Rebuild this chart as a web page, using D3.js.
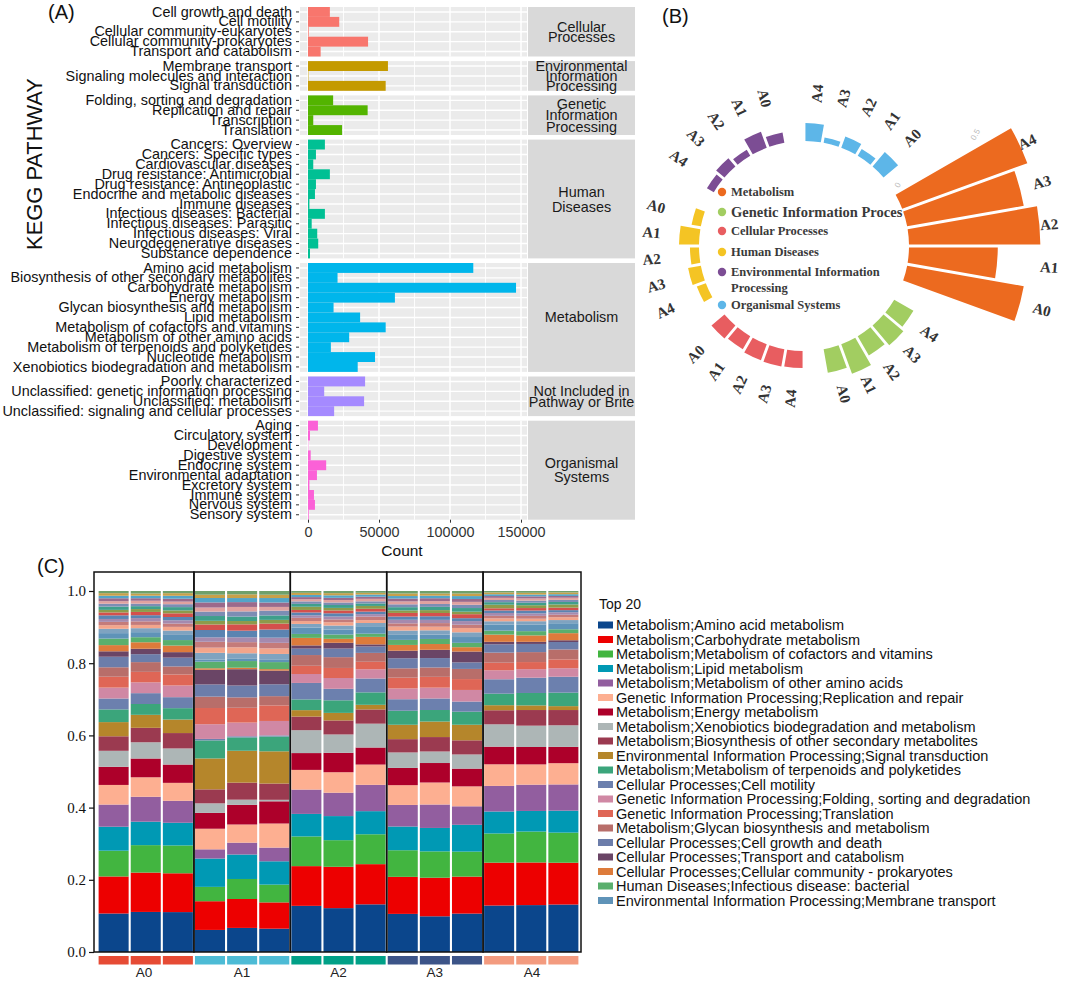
<!DOCTYPE html>
<html><head><meta charset="utf-8">
<script src="https://cdn.jsdelivr.net/npm/d3@7"></script>
<style>body{margin:0;background:#fff}svg{display:block}</style>
</head><body>
<svg id="fig" width="1065" height="981"></svg>
<script>
// ================= DATA =================
// ---- Panel A : KEGG level-2 pathway counts ----
const keggLevel1 = ["Cellular Processes","Environmental Information Processing","Genetic Information Processing","Human Diseases","Metabolism","Not Included in Pathway or Brite","Organismal Systems"];
const keggStrip = [["Cellular","Processes"],["Environmental","Information","Processing"],["Genetic","Information","Processing"],["Human","Diseases"],["Metabolism"],["Not Included in","Pathway or Brite"],["Organismal","Systems"]];
const keggPathway = [
 "Cell growth and death","Cell motility","Cellular community-eukaryotes","Cellular community-prokaryotes","Transport and catabolism",
 "Membrane transport","Signaling molecules and interaction","Signal transduction",
 "Folding, sorting and degradation","Replication and repair","Transcription","Translation",
 "Cancers: Overview","Cancers: Specific types","Cardiovascular diseases","Drug resistance: Antimicrobial","Drug resistance: Antineoplastic","Endocrine and metabolic diseases","Immune diseases","Infectious diseases: Bacterial","Infectious diseases: Parasitic","Infectious diseases: Viral","Neurodegenerative diseases","Substance dependence",
 "Amino acid metabolism","Biosynthesis of other secondary metabolites","Carbohydrate metabolism","Energy metabolism","Glycan biosynthesis and metabolism","Lipid metabolism","Metabolism of cofactors and vitamins","Metabolism of other amino acids","Metabolism of terpenoids and polyketides","Nucleotide metabolism","Xenobiotics biodegradation and metabolism",
 "Poorly characterized","Unclassified: genetic information processing","Unclassified: metabolism","Unclassified: signaling and cellular processes",
 "Aging","Circulatory system","Development","Digestive system","Endocrine system","Environmental adaptation","Excretory system","Immune system","Nervous system","Sensory system"];
const keggGroupOf = [0,0,0,0,0, 1,1,1, 2,2,2,2, 3,3,3,3,3,3,3,3,3,3,3,3, 4,4,4,4,4,4,4,4,4,4,4, 5,5,5,5, 6,6,6,6,6,6,6,6,6,6];
const keggCount = [
 15400,22000,500,42300,8900,
 56300,300,54700,
 17700,42000,3700,24000,
 11900,5600,3700,15400,5600,4900,1000,11900,2600,6500,7200,1400,
 116400,20800,146500,61200,18000,36700,54700,29000,16100,47200,35000,
 40200,11400,39500,18400,
 7000,1400,200,1900,12800,6300,1000,4200,4900,500];
const countTicks = [0,50000,100000,150000];
const countMinorTicks = [25000,75000,125000];

// ---- Panel B : circular bar chart ----
const circGroups = ["Metabolism","Genetic Information Processing","Cellular Processes","Human Diseases","Environmental Information Processing","Organismal Systems"];
const circLegend = [["Metabolism"],["Genetic Information Proces"],["Cellular Processes"],["Human Diseases"],["Environmental Information","Processing"],["Organismal Systems"]];
const circSamples = ["A0","A1","A2","A3","A4"];
const circMetabolism = [0.64,0.48,0.71,0.64,0.72];
const circGenetic    = [0.13,0.17,0.12,0.14,0.12];
const circCellular   = [0.092,0.081,0.092,0.095,0.092];
const circHuman      = [0.051,0.108,0.049,0.070,0.052];
const circEnv        = [0.057,0.092,0.038,0.059,0.043];
const circOrganismal = [0.103,0.043,0.065,0.029,0.097];
const circValues = [circMetabolism,circGenetic,circCellular,circHuman,circEnv,circOrganismal];
const circTicks = [0,0.5];

// ---- Panel C : stacked relative abundance ----
const sampleGroups = ["A0","A1","A2","A3","A4"];
const samples = ["A0_1","A0_2","A0_3","A1_1","A1_2","A1_3","A2_1","A2_2","A2_3","A3_1","A3_2","A3_3","A4_1","A4_2","A4_3"];
const top20 = [
 "Metabolism;Amino acid metabolism",
 "Metabolism;Carbohydrate metabolism",
 "Metabolism;Metabolism of cofactors and vitamins",
 "Metabolism;Lipid metabolism",
 "Metabolism;Metabolism of other amino acids",
 "Genetic Information Processing;Replication and repair",
 "Metabolism;Energy metabolism",
 "Metabolism;Xenobiotics biodegradation and metabolism",
 "Metabolism;Biosynthesis of other secondary metabolites",
 "Environmental Information Processing;Signal transduction",
 "Metabolism;Metabolism of terpenoids and polyketides",
 "Cellular Processes;Cell motility",
 "Genetic Information Processing;Folding, sorting and degradation",
 "Genetic Information Processing;Translation",
 "Metabolism;Glycan biosynthesis and metabolism",
 "Cellular Processes;Cell growth and death",
 "Cellular Processes;Transport and catabolism",
 "Cellular Processes;Cellular community - prokaryotes",
 "Human Diseases;Infectious disease: bacterial",
 "Environmental Information Processing;Membrane transport"];
const abAmino      = [0.106,0.111,0.109, 0.060,0.065,0.063, 0.129,0.122,0.134, 0.106,0.099,0.106, 0.129,0.132,0.134];
const abCarb       = [0.102,0.109,0.106, 0.078,0.078,0.071, 0.111,0.115,0.113, 0.103,0.107,0.102, 0.119,0.120,0.118];
const abCofactor   = [0.071,0.076,0.076, 0.039,0.054,0.048, 0.083,0.074,0.084, 0.074,0.073,0.069, 0.081,0.087,0.085];
const abLipid      = [0.066,0.065,0.062, 0.077,0.066,0.063, 0.063,0.067,0.065, 0.066,0.065,0.074, 0.061,0.058,0.062];
const abOtherAA    = [0.061,0.069,0.060, 0.025,0.032,0.037, 0.068,0.065,0.074, 0.060,0.065,0.051, 0.071,0.074,0.074];
const abReplic     = [0.054,0.054,0.049, 0.056,0.049,0.065, 0.055,0.057,0.057, 0.055,0.061,0.055, 0.060,0.057,0.060];
const abEnergy     = [0.050,0.052,0.050, 0.043,0.053,0.060, 0.047,0.054,0.048, 0.048,0.054,0.049, 0.049,0.049,0.046];
const abXeno       = [0.044,0.045,0.044, 0.026,0.014,0.004, 0.064,0.051,0.067, 0.043,0.032,0.039, 0.062,0.060,0.061];
const abBiosyn     = [0.040,0.040,0.042, 0.038,0.046,0.044, 0.038,0.039,0.040, 0.037,0.040,0.039, 0.039,0.044,0.043];
const abSignal     = [0.039,0.036,0.037, 0.084,0.086,0.087, 0.018,0.021,0.013, 0.040,0.043,0.043, 0.014,0.013,0.011];
const abTerpen     = [0.035,0.030,0.031, 0.049,0.036,0.040, 0.030,0.035,0.035, 0.039,0.032,0.036, 0.032,0.035,0.038];
const abMotility   = [0.030,0.030,0.030, 0.004,0.003,0.003, 0.046,0.032,0.039, 0.032,0.032,0.028, 0.040,0.043,0.045];
const abFolding    = [0.030,0.030,0.032, 0.040,0.037,0.039, 0.025,0.030,0.026, 0.030,0.030,0.032, 0.025,0.024,0.024];
const abTransl     = [0.030,0.029,0.030, 0.044,0.040,0.042, 0.023,0.028,0.021, 0.030,0.030,0.030, 0.021,0.020,0.025];
const abGlycan     = [0.026,0.027,0.022, 0.031,0.028,0.025, 0.030,0.030,0.025, 0.026,0.026,0.028, 0.028,0.028,0.028];
const abGrowth     = [0.029,0.022,0.024, 0.033,0.032,0.032, 0.018,0.024,0.018, 0.028,0.026,0.018, 0.023,0.023,0.021];
const abTransport  = [0.015,0.015,0.015, 0.040,0.044,0.037, 0.009,0.016,0.006, 0.021,0.023,0.030, 0.007,0.006,0.005];
const abCommunity  = [0.017,0.018,0.018, 0.004,0.004,0.004, 0.021,0.011,0.021, 0.016,0.016,0.012, 0.020,0.018,0.020];
const abInfect     = [0.018,0.014,0.015, 0.018,0.018,0.019, 0.011,0.012,0.009, 0.014,0.014,0.012, 0.011,0.012,0.011];
const abMembrane   = [0.015,0.014,0.014, 0.006,0.006,0.006, 0.018,0.014,0.021, 0.014,0.012,0.016, 0.017,0.018,0.017];
// remaining (non top-20) pathways, thin stripes at the top of each bar
const abOther01 = [0.012,0.011,0.012, 0.018,0.015,0.016, 0.010,0.011,0.009, 0.012,0.012,0.013, 0.009,0.010,0.009];
const abOther02 = [0.010,0.009,0.010, 0.014,0.016,0.015, 0.008,0.009,0.008, 0.011,0.010,0.012, 0.008,0.007,0.008];
const abOther03 = [0.009,0.010,0.009, 0.016,0.014,0.015, 0.009,0.008,0.010, 0.009,0.010,0.009, 0.007,0.008,0.007];
const abOther04 = [0.008,0.009,0.009, 0.012,0.013,0.014, 0.007,0.008,0.007, 0.010,0.009,0.010, 0.008,0.007,0.007];
const abOther05 = [0.010,0.008,0.009, 0.020,0.018,0.022, 0.008,0.009,0.007, 0.009,0.010,0.008, 0.007,0.008,0.006];
const abOther06 = [0.008,0.009,0.010, 0.015,0.017,0.016, 0.007,0.008,0.008, 0.010,0.009,0.011, 0.006,0.007,0.007];
const abOther07 = [0.007,0.008,0.008, 0.010,0.009,0.010, 0.009,0.007,0.008, 0.007,0.008,0.007, 0.010,0.008,0.009];
const abOther08 = [0.009,0.008,0.009, 0.013,0.012,0.012, 0.008,0.008,0.007, 0.009,0.009,0.010, 0.007,0.007,0.007];
const abOther09 = [0.008,0.007,0.008, 0.012,0.014,0.013, 0.007,0.007,0.006, 0.008,0.008,0.009, 0.006,0.006,0.006];
const abOther10 = [0.007,0.008,0.007, 0.011,0.012,0.010, 0.006,0.007,0.007, 0.008,0.008,0.008, 0.006,0.006,0.006];
const abOther11 = [0.008,0.007,0.008, 0.014,0.013,0.012, 0.006,0.006,0.006, 0.008,0.008,0.008, 0.005,0.006,0.005];
const abOther12 = [0.007,0.007,0.008, 0.012,0.011,0.012, 0.006,0.007,0.006, 0.007,0.007,0.008, 0.005,0.005,0.005];
const abOther13 = [0.007,0.006,0.007, 0.009,0.010,0.009, 0.006,0.006,0.005, 0.007,0.006,0.007, 0.005,0.005,0.005];
const abOther14 = [0.006,0.007,0.006, 0.010,0.009,0.010, 0.005,0.006,0.005, 0.007,0.007,0.007, 0.004,0.005,0.004];
const topSeries = [abAmino,abCarb,abCofactor,abLipid,abOtherAA,abReplic,abEnergy,abXeno,abBiosyn,abSignal,abTerpen,abMotility,abFolding,abTransl,abGlycan,abGrowth,abTransport,abCommunity,abInfect,abMembrane];
const otherSeries = [abOther01,abOther02,abOther03,abOther04,abOther05,abOther06,abOther07,abOther08,abOther09,abOther10,abOther11,abOther12,abOther13,abOther14];
const abTicks = [0,0.2,0.4,0.6,0.8,1.0];

// ================= STYLES =================
const SANS = "'Liberation Sans', Arial, Helvetica, sans-serif";
const SERIF = "'Liberation Serif', 'Times New Roman', serif";
const keggColors = ["#F8766D","#C49A00","#53B400","#00C094","#00B6EB","#A58AFF","#FB61D7"];
const circColors = ["#EC6A1F","#A2CD61","#E85D60","#F4C424","#7C4D94","#5DB6E8"];
const topColors = ["#0B468C","#ED0000","#42B540","#0099B4","#925E9F","#FDAF91","#AD002A","#ADB6B6","#9B3A50","#B5862B","#3BA57B","#6C80AE","#D088A4","#DF6656","#B86E6A","#6C7DAA","#6A4566","#DD7B3B","#5AAF6D","#5F93B8"];
const otherColors = ["#7FA3C0","#F3A58B","#C47B7A","#A58AAE","#5B84B1","#D4504C","#8D9B4B","#3F9F8B","#7C8DB4","#E0A2A0","#9B6A8B","#53A4C8","#C8A049","#6FA06B"];
const groupStripColors = ["#E64B35","#4DBBD5","#00A087","#3C5488","#F39B7F"];

const svg = d3.select("#fig");

// panel letters
svg.append("text").attr("x",48).attr("y",19).text("(A)").attr("font-family",SANS).attr("font-size",20).attr("fill","#111");
svg.append("text").attr("x",662).attr("y",23).text("(B)").attr("font-family",SANS).attr("font-size",20).attr("fill","#111");
svg.append("text").attr("x",37).attr("y",573).text("(C)").attr("font-family",SANS).attr("font-size",20).attr("fill","#111");

// ================= PANEL A =================
(function(){
  const g = svg.append("g");
  const xA = d3.scaleLinear().domain([0,150000]).range([308,521]);
  const pL = 300, pR = 527, sL = 528, sR = 635;
  const rowH = 9.9, gapH = 4.6;
  const stripGap = [10,10,11.5,15,0,11.5,14];
  let yCur = 7;
  keggLevel1.forEach((lvl, gi) => {
    const idx = keggPathway.map((p,i)=>i).filter(i => keggGroupOf[i] === gi);
    const rows = idx.map(i => keggPathway[i]);
    const h = rows.length * rowH;
    const y = d3.scaleBand().domain(rows).range([yCur, yCur + h]).padding(0);
    g.append("rect").attr("x",pL).attr("y",yCur).attr("width",pR-pL).attr("height",h).attr("fill","#EBEBEB");
    g.append("g").selectAll("line").data(countMinorTicks).join("line")
      .attr("x1",d=>xA(d)).attr("x2",d=>xA(d)).attr("y1",yCur).attr("y2",yCur+h)
      .attr("stroke","#fff").attr("stroke-width",0.9);
    g.append("g").selectAll("line").data(countTicks).join("line")
      .attr("x1",d=>xA(d)).attr("x2",d=>xA(d)).attr("y1",yCur).attr("y2",yCur+h)
      .attr("stroke","#fff").attr("stroke-width",1.5);
    g.append("g").selectAll("line").data(rows).join("line")
      .attr("x1",pL).attr("x2",pR).attr("y1",d=>y(d)+y.bandwidth()/2).attr("y2",d=>y(d)+y.bandwidth()/2)
      .attr("stroke","#fff").attr("stroke-width",1.4);
    g.append("g").selectAll("rect").data(idx).join("rect")
      .attr("x",xA(0)).attr("y",i=>y(keggPathway[i]))
      .attr("width",i=>xA(keggCount[i])-xA(0)).attr("height",y.bandwidth())
      .attr("fill",keggColors[gi]);
    const ax = g.append("g").attr("transform","translate(299,0)")
      .call(d3.axisLeft(y).tickSize(3).tickPadding(4));
    ax.select(".domain").remove();
    ax.selectAll(".tick line").attr("stroke","#333");
    ax.selectAll(".tick text").attr("font-family",SANS).attr("font-size",14.4).attr("fill","#111");
    // strip
    g.append("rect").attr("x",sL).attr("y",yCur).attr("width",sR-sL).attr("height",h).attr("fill","#D9D9D9");
    const lines = keggStrip[gi];
    const cy = yCur + h/2;
    g.append("g").selectAll("text").data(lines).join("text")
      .attr("x",(sL+sR)/2).attr("y",(d,k)=>cy + (k-(lines.length-1)/2)*stripGap[gi])
      .attr("text-anchor","middle").attr("dominant-baseline","central")
      .attr("font-family",SANS).attr("font-size",14.4).attr("fill","#1a1a1a").text(d=>d);
    yCur += h + gapH;
  });
  const bottom = yCur - gapH;
  const xa = g.append("g").attr("transform",`translate(0,${bottom})`)
    .call(d3.axisBottom(xA).tickValues(countTicks).tickSize(3).tickPadding(4).tickFormat(d3.format("d")));
  xa.select(".domain").remove();
  xa.selectAll(".tick line").attr("stroke","#333");
  xa.selectAll(".tick text").attr("font-family",SANS).attr("font-size",14.4).attr("fill","#333");
  g.append("text").attr("x",402).attr("y",556).attr("text-anchor","middle")
    .attr("font-family",SANS).attr("font-size",15.5).attr("fill","#111").text("Count");
  g.append("text").attr("transform","translate(42,164) rotate(-90)").attr("text-anchor","middle")
    .attr("font-family",SANS).attr("font-size",21.9).attr("fill","#111").text("KEGG PATHWAY");
})();

// ================= PANEL B =================
(function(){
  const cx = 804, cy = 246;
  const g = svg.append("g").attr("transform",`translate(${cx},${cy})`);
  const r = d3.scaleLinear().domain([0,1]).range([105,290]);
  const slots = [];
  circGroups.forEach((gr,gi)=>{
    circSamples.slice().reverse().forEach(s=>slots.push(gi+"|"+s));
    slots.push(gi+"|gap");
  });
  const start = Math.PI/3; // -30deg from east, d3 angles from north
  const ang = d3.scaleBand().domain(slots).range([start, start + 2*Math.PI]).padding(0);
  const bars = [];
  circGroups.forEach((gr,gi)=>circSamples.forEach((s,si)=>bars.push({gi, s, v: circValues[gi][si], key: gi+"|"+s})));
  const arc = d3.arc()
    .innerRadius(r(0)).outerRadius(d=>r(d.v))
    .startAngle(d=>ang(d.key)).endAngle(d=>ang(d.key)+ang.bandwidth())
    .padAngle(0.026).padRadius(110);
  g.append("g").selectAll("path").data(bars).join("path")
    .attr("d",arc).attr("fill",d=>circColors[d.gi]);
  // sample labels
  g.append("g").selectAll("text").data(bars).join("text")
    .attr("transform",d=>{
      const gmax = d3.max(circValues[d.gi]);
      const R = r(Math.max(gmax, 40/185)) + 8;
      const a = ang(d.key) + ang.bandwidth()/2 - Math.PI/2;
      let rot = a*180/Math.PI;
      if (Math.cos(a) < 0) rot += 180;
      return `translate(${R*Math.cos(a)},${R*Math.sin(a)}) rotate(${rot})`;
    })
    .attr("text-anchor","middle").attr("dominant-baseline","central")
    .attr("font-family",SERIF).attr("font-weight","bold").attr("font-size",15).attr("fill","#333")
    .text(d=>d.s);
  // radial tick labels in gap
  const ta = -33*Math.PI/180;
  g.append("g").selectAll("text").data(circTicks).join("text")
    .attr("transform",d=>`translate(${(r(d)+7)*Math.cos(ta)},${(r(d)+7)*Math.sin(ta)}) rotate(-62)`)
    .attr("text-anchor","middle").attr("dominant-baseline","central")
    .attr("font-family",SANS).attr("font-size",8).attr("fill","#bbb").text(d=>d);
  // legend
  const ly = [192,212,231,252,272,305];
  const lg = svg.append("g");
  circLegend.forEach((lines,i)=>{
    lg.append("circle").attr("cx",722).attr("cy",ly[i]).attr("r",4.2).attr("fill",circColors[i]);
    lines.forEach((t,k)=>{
      lg.append("text").attr("x",731).attr("y",ly[i]+k*15.5).attr("dominant-baseline","central")
        .attr("font-family",SERIF).attr("font-weight","bold").attr("font-size", i===1?14.5:12.5)
        .attr("fill","#3a3a3a").text(t);
    });
  });
})();

// ================= PANEL C =================
(function(){
  const g = svg.append("g");
  const allKeys = top20.concat(otherSeries.map((s,i)=>"other"+i));
  const allSeries = topSeries.concat(otherSeries);
  const allColors = topColors.concat(otherColors);
  const rows = samples.map((s,j)=>{
    const o = {sample:s};
    allKeys.forEach((k,i)=>o[k]=allSeries[i][j]);
    return o;
  });
  const stack = d3.stack().keys(allKeys).offset(d3.stackOffsetExpand)(rows);
  const x = d3.scaleBand().domain(samples).range([97,580]).paddingInner(0.065).paddingOuter(0.05);
  const y = d3.scaleLinear().domain([0,1]).range([952,591]);
  const bw = x.bandwidth();
  g.append("g").selectAll("g").data(stack).join("g").attr("fill",(d,i)=>allColors[i])
    .selectAll("rect").data(d=>d).join("rect")
    .attr("x",d=>x(d.data.sample)).attr("width",bw)
    .attr("y",d=>y(d[1])).attr("height",d=>Math.max(0,y(d[0])-y(d[1])));
  // group frames
  const bounds = sampleGroups.map((gname,gi)=>{
    const first = samples[gi*3], last = samples[gi*3+2];
    const l = gi===0 ? 94 : (x(samples[gi*3-1])+bw + x(first))/2;
    const rr = gi===sampleGroups.length-1 ? 581 : (x(last)+bw + x(samples[gi*3+3]))/2;
    return {gname, l, r: rr};
  });
  g.append("g").selectAll("rect").data(bounds).join("rect")
    .attr("x",d=>d.l).attr("y",572).attr("width",d=>d.r-d.l).attr("height",952-572)
    .attr("fill","none").attr("stroke","#111").attr("stroke-width",1.5);
  // strips under bars
  g.append("g").selectAll("rect").data(samples).join("rect")
    .attr("x",d=>x(d)).attr("width",bw).attr("y",956).attr("height",8.5)
    .attr("fill",(d,j)=>groupStripColors[Math.floor(j/3)]);
  g.append("g").selectAll("text").data(bounds).join("text")
    .attr("x",d=>(d.l+d.r)/2).attr("y",977).attr("text-anchor","middle")
    .attr("font-family",SANS).attr("font-size",13.5).attr("fill","#222").text(d=>d.gname);
  const ya = g.append("g").attr("transform","translate(94,0)")
    .call(d3.axisLeft(y).tickValues(abTicks).tickSize(5).tickPadding(3).tickFormat(d3.format(".1f")));
  ya.select(".domain").remove();
  ya.selectAll(".tick line").attr("stroke","#111").attr("stroke-width",1.2);
  ya.selectAll(".tick text").attr("font-family",SERIF).attr("font-size",15).attr("fill","#111");
  // legend
  const lg = g.append("g");
  lg.append("text").attr("x",599).attr("y",604).attr("dominant-baseline","central")
    .attr("font-family",SANS).attr("font-size",14).attr("fill","#111").text("Top 20");
  const ly = d3.scaleBand().domain(top20).range([617.75, 617.75+20*14.5]);
  lg.selectAll("rect").data(top20).join("rect")
    .attr("x",598).attr("y",d=>ly(d)+ly.bandwidth()/2-3.5).attr("width",15).attr("height",7)
    .attr("fill",(d,i)=>topColors[i]);
  lg.selectAll("text.item").data(top20).join("text").attr("class","item")
    .attr("x",616).attr("y",d=>ly(d)+ly.bandwidth()/2).attr("dominant-baseline","central")
    .attr("font-family",SANS).attr("font-size",14.5).attr("fill","#111").text(d=>d);
})();
</script>
</body></html>
